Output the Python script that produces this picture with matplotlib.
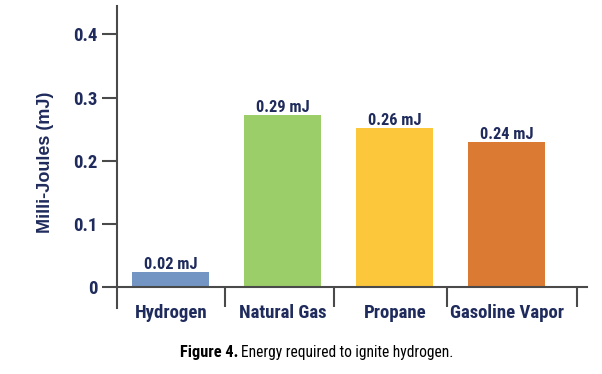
import numpy as np
import matplotlib
matplotlib.use('Agg')
import matplotlib.pyplot as plt

# data
fuels = ['Hydrogen', 'Natural Gas', 'Propane', 'Gasoline Vapor']
energy = [0.024, 0.272, 0.252, 0.229]
value_labels = ['0.02 mJ', '0.29 mJ', '0.26 mJ', '0.24 mJ']
bar_colors = ['#7395c4', '#9bcd68', '#fdc73c', '#db7a33']
y_ticks = [0, 0.1, 0.2, 0.3, 0.4]
y_tick_labels = ['0', '0.1', '0.2', '0.3', '0.4']

navy = '#1f2b5c'
axis_col = '#4a4a4a'
narrow = ['Roboto Condensed', 'Archivo Narrow', 'Barlow Condensed', 'DejaVu Sans']

fig = plt.figure(figsize=(6.02, 3.74), dpi=100)
ax = fig.add_axes([117/602, 1-308/374, 470/602, 302/374])

x = np.arange(len(fuels))
ax.bar(x, energy, width=0.69, color=bar_colors, zorder=2)

# value labels on top of bars
for xi, v, lab in zip(x, energy, value_labels):
    ax.annotate(lab, (xi, v), xytext=(0, 0), textcoords='offset points',
                ha='center', va='bottom', fontsize=11.8, fontweight='bold',
                color=navy, family=narrow)

ax.set_xlim(-0.48, 3.716)
ax.set_ylim(-0.033, 0.445)

for s in ['top', 'right']:
    ax.spines[s].set_visible(False)
ax.spines['bottom'].set_position(('data', 0))
ax.spines['left'].set_color(axis_col)
ax.spines['bottom'].set_color(axis_col)
ax.spines['left'].set_linewidth(1.5)
ax.spines['bottom'].set_linewidth(1.5)

ax.set_yticks(y_ticks)
ax.set_yticklabels(y_tick_labels)
ax.tick_params(axis='y', direction='out', length=10.8, width=1.5, color=axis_col,
               pad=3.5, labelsize=13.5, labelcolor=navy)

ax.set_xticks(x)
ax.set_xticklabels(fuels)
# separator ticks between categories
ax.set_xticks([0.48, 1.46, 2.47, 3.63], minor=True)
ax.tick_params(axis='x', which='major', length=0, pad=12, labelsize=13.5, labelcolor=navy)
ax.tick_params(axis='x', which='minor', direction='out', length=14.5, width=1.5, color=axis_col)

for t in ax.get_xticklabels() + ax.get_yticklabels():
    t.set_family(narrow)
    t.set_fontweight('bold')

fig.text(45/602, 1-162/374, 'Milli-Joules (mJ)', rotation=90, ha='center', va='center',
         fontsize=13, fontweight='bold', color=navy, family=['Liberation Sans', 'DejaVu Sans'])

fig.text(238/602, 1-352/374, 'Figure 4.', ha='right', va='center', fontsize=11.8,
         fontweight='bold', color='black', family=narrow)
fig.text(241/602, 1-352/374, 'Energy required to ignite hydrogen.', ha='left', va='center',
         fontsize=11.2, color='black', family=narrow)

fig.savefig('out.png', dpi=100)
